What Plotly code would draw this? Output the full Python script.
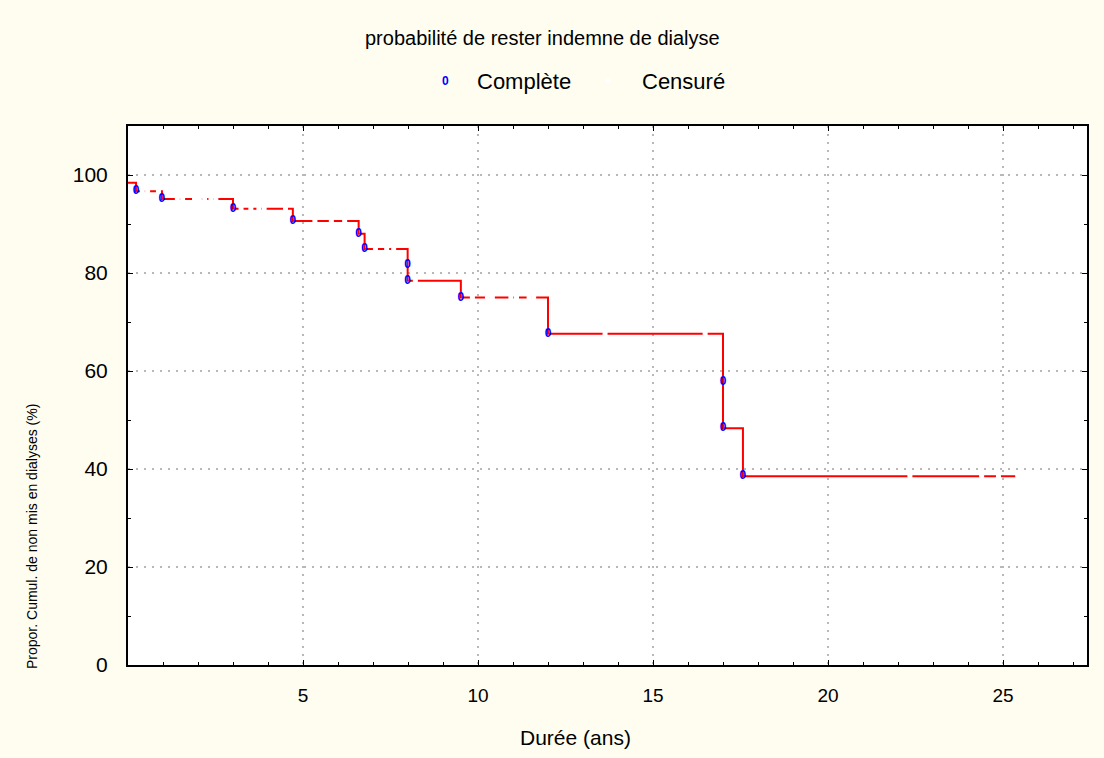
import plotly.graph_objects as go

# Kaplan-Meier estimate: time to dialysis (years)
start_value = 98.4
event_times = [0.23, 0.97, 3.0, 4.71, 6.59, 6.76, 7.99, 7.99, 9.51, 12.0, 17.0, 17.0, 17.57]
surv_after = [96.7, 95.1, 93.1, 90.6, 88.0, 84.9, 81.7, 78.4, 75.0, 67.6, 57.8, 48.3, 38.5]
censored_times = [0.41, 0.56, 0.87, 1.41, 1.56, 1.90, 2.04, 2.19, 2.37, 2.51,
                  3.23, 3.51, 3.74, 3.89, 4.50, 5.34, 5.81, 6.19, 7.07, 7.39,
                  7.59, 8.21, 9.84, 10.27, 10.41, 10.94, 11.10, 11.46, 11.59,
                  13.63, 16.49, 22.34, 24.39, 24.87, 25.42]

x_ticks = [5, 10, 15, 20, 25]
y_ticks = [0, 20, 40, 60, 80, 100]

TEXT_FONT = "Liberation Sans Narrow, Arial Narrow, Liberation Sans, Arial, sans-serif"
BG = "#FFFDF0"


def value_at(t):
    v = start_value
    for et, s in zip(event_times, surv_after):
        if et <= t:
            v = s
    return v


end_time = max(censored_times)
step_x = [0] + event_times + [end_time]
step_y = [start_value] + surv_after + [surv_after[-1]]

fig = go.Figure()

fig.add_trace(go.Scatter(
    x=step_x, y=step_y, mode="lines", line=dict(color="#FF0000", width=2, shape="hv"),
    hoverinfo="skip", showlegend=False,
))

fig.add_trace(go.Scatter(
    x=censored_times, y=[value_at(t) for t in censored_times], mode="markers",
    marker=dict(symbol="square", size=5, color="white", line=dict(width=0)),
    name="Censuré", showlegend=False,
))

fig.add_trace(go.Scatter(
    x=event_times, y=surv_after, mode="text", text=["0"] * len(event_times),
    textfont=dict(color="#0000FF", size=12, family=TEXT_FONT, weight="bold"),
    name="Complète", showlegend=False,
))

# plot-area geometry in pixels, used to place the header texts
L, R, T, B = 128, 1087, 126, 665


def px(xp):
    return (xp - L) / (R - L)


def py(yp):
    return (B - yp) / (B - T)


annotations = [
    dict(x=px(542), y=py(38), text="probabilité de rester indemne de dialyse",
         font=dict(size=20, color="black", family=TEXT_FONT)),
    dict(x=px(445), y=py(81), text="0",
         font=dict(size=12, color="#0000FF", family=TEXT_FONT, weight="bold")),
    dict(x=px(524), y=py(81), text="Complète",
         font=dict(size=22, color="black", family=TEXT_FONT)),
    dict(x=px(683), y=py(81), text="Censuré",
         font=dict(size=22, color="black", family=TEXT_FONT)),
    dict(x=px(575), y=py(737), text="Durée (ans)",
         font=dict(size=21, color="black", family=TEXT_FONT)),
    dict(x=px(32), y=py(537), text="Propor. Cumul. de non mis en dialyses (%)", textangle=-90,
         font=dict(size=14, color="black", family=TEXT_FONT)),
]
for a in annotations:
    a.update(xref="paper", yref="paper", showarrow=False, xanchor="center", yanchor="middle")

fig.add_shape(type="rect", xref="paper", yref="paper",
              x0=px(606), x1=px(610), y0=py(79), y1=py(83),
              fillcolor="white", line=dict(width=0))

fig.update_layout(
    width=1104, height=758,
    margin=dict(l=L, r=1104 - R, t=T, b=758 - B),
    paper_bgcolor=BG, plot_bgcolor="white",
    annotations=annotations,
    showlegend=False,
    font=dict(family=TEXT_FONT, color="black"),
)

fig.update_xaxes(
    range=[0, 27.4], tickvals=x_ticks, ticktext=[str(v) for v in x_ticks],
    ticks="inside", ticklen=5, tickcolor="black", tickwidth=1,
    minor=dict(dtick=1, tick0=0, ticks="inside", ticklen=3, tickcolor="black", showgrid=False),
    showline=True, linecolor="black", linewidth=2, mirror="ticks",
    showgrid=True, gridcolor="#B8B8B8", gridwidth=2, griddash="2px,6px",
    zeroline=False, tickfont=dict(size=19, color="black"), ticklabelstandoff=12,
)
fig.update_yaxes(
    range=[0, 110], tickvals=y_ticks, ticktext=[str(v) for v in y_ticks],
    ticks="inside", ticklen=5, tickcolor="black", tickwidth=1,
    minor=dict(dtick=10, tick0=0, ticks="inside", ticklen=3, tickcolor="black", showgrid=False),
    showline=True, linecolor="black", linewidth=2, mirror="ticks",
    showgrid=True, gridcolor="#B8B8B8", gridwidth=2, griddash="2px,6px",
    zeroline=False, tickfont=dict(size=21, color="black"), ticklabelstandoff=14,
)

fig.write_html("out.html")
